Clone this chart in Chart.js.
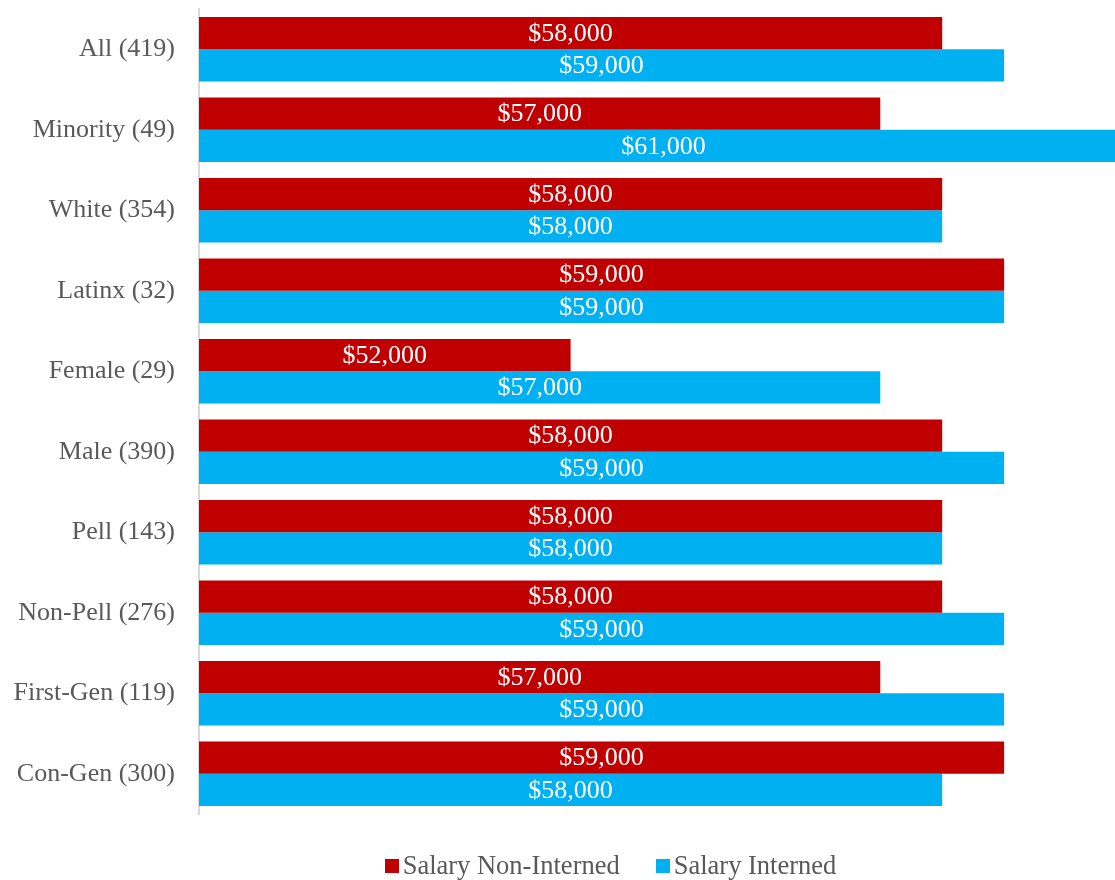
<!DOCTYPE html>
<html>
<head>
<meta charset="utf-8">
<script src="https://cdn.jsdelivr.net/npm/chart.js@4/dist/chart.umd.min.js"></script>
<style>
  html, body { margin: 0; padding: 0; background: #fff; }
  #wrap { width: 1115px; height: 880px; position: relative; }
  #legend {
    position: absolute; left: 53px; top: 850px; width: 1115px; text-align: center;
    font-family: 'Liberation Serif', 'Times New Roman', serif; font-size: 26.5px; color: #595959;
    white-space: nowrap;
  }
  #legend span.item { display: inline-block; margin: 0 18px; }
  #legend span.box { display: inline-block; width: 14px; height: 14px; margin-right: 4px; vertical-align: 1px; }
</style>
</head>
<body>
<div id="wrap">
  <canvas id="myChart" width="1115" height="880"></canvas>
  <div id="legend"></div>
</div>
<script>
// chart data
const categories = ['All (419)', 'Minority (49)', 'White (354)', 'Latinx (32)', 'Female (29)',
    'Male (390)', 'Pell (143)', 'Non-Pell (276)', 'First-Gen (119)', 'Con-Gen (300)'];
const nonInterned = [58000, 57000, 58000, 59000, 52000, 58000, 58000, 58000, 57000, 59000];
const interned = [59000, 61000, 58000, 59000, 57000, 59000, 58000, 59000, 59000, 58000];
const seriesNames = ['Salary Non-Interned', 'Salary Interned'];
const seriesColors = ['#C00000', '#00B0F0'];

const FONT = "'Liberation Serif', 'Times New Roman', serif";

function money(v) {
    return '$' + String(v).replace(/\B(?=(\d{3})+(?!\d))/g, ',');
}

// draws the white $ labels in the middle of each bar
const barLabels = {
    id: 'barLabels',
    afterDraw(chart) {
        const c = chart.ctx;
        const xScale = chart.scales.x;
        c.save();
        c.font = '26px ' + FONT;
        c.fillStyle = '#ffffff';
        c.textAlign = 'center';
        c.textBaseline = 'middle';
        chart.data.datasets.forEach((ds, i) => {
            chart.getDatasetMeta(i).data.forEach((bar, j) => {
                const left = xScale.getPixelForValue(xScale.min);
                const right = xScale.getPixelForValue(ds.data[j]);
                c.fillText(money(ds.data[j]), (left + right) / 2, bar.y + 1);
            });
        });
        c.restore();
    }
};

const config = {
    type: 'bar',
    data: {
        labels: categories,
        datasets: [{
            label: seriesNames[0],
            data: nonInterned,
            backgroundColor: seriesColors[0],
            categoryPercentage: 0.8,
            barPercentage: 1.0
        }, {
            label: seriesNames[1],
            data: interned,
            backgroundColor: seriesColors[1],
            categoryPercentage: 0.8,
            barPercentage: 1.0
        }]
    },
    options: {
        indexAxis: 'y',
        responsive: false,
        animation: false,
        layout: { padding: { top: 9, right: 0, left: 0, bottom: 66 } },
        scales: {
            x: {
                display: false,
                min: 46000,
                max: 60790
            },
            y: {
                grid: { display: false },
                border: { display: true, color: '#d9d9d9', width: 2 },
                ticks: {
                    color: '#595959',
                    padding: 16,
                    font: { family: FONT, size: 26 }
                },
                afterFit(scale) {
                    scale.width = 199;
                    scale.paddingTop = 0;
                    scale.paddingBottom = 0;
                }
            }
        },
        plugins: {
            legend: { display: false },
            tooltip: { enabled: false }
        }
    },
    plugins: [barLabels]
};

const ctx = document.getElementById('myChart').getContext('2d');
new Chart(ctx, config);

// legend as plain text under the chart
const legendEl = document.getElementById('legend');
seriesNames.forEach((name, i) => {
    const item = document.createElement('span');
    item.className = 'item';
    const box = document.createElement('span');
    box.className = 'box';
    box.style.background = seriesColors[i];
    item.appendChild(box);
    item.appendChild(document.createTextNode(name));
    legendEl.appendChild(item);
});
</script>
</body>
</html>
